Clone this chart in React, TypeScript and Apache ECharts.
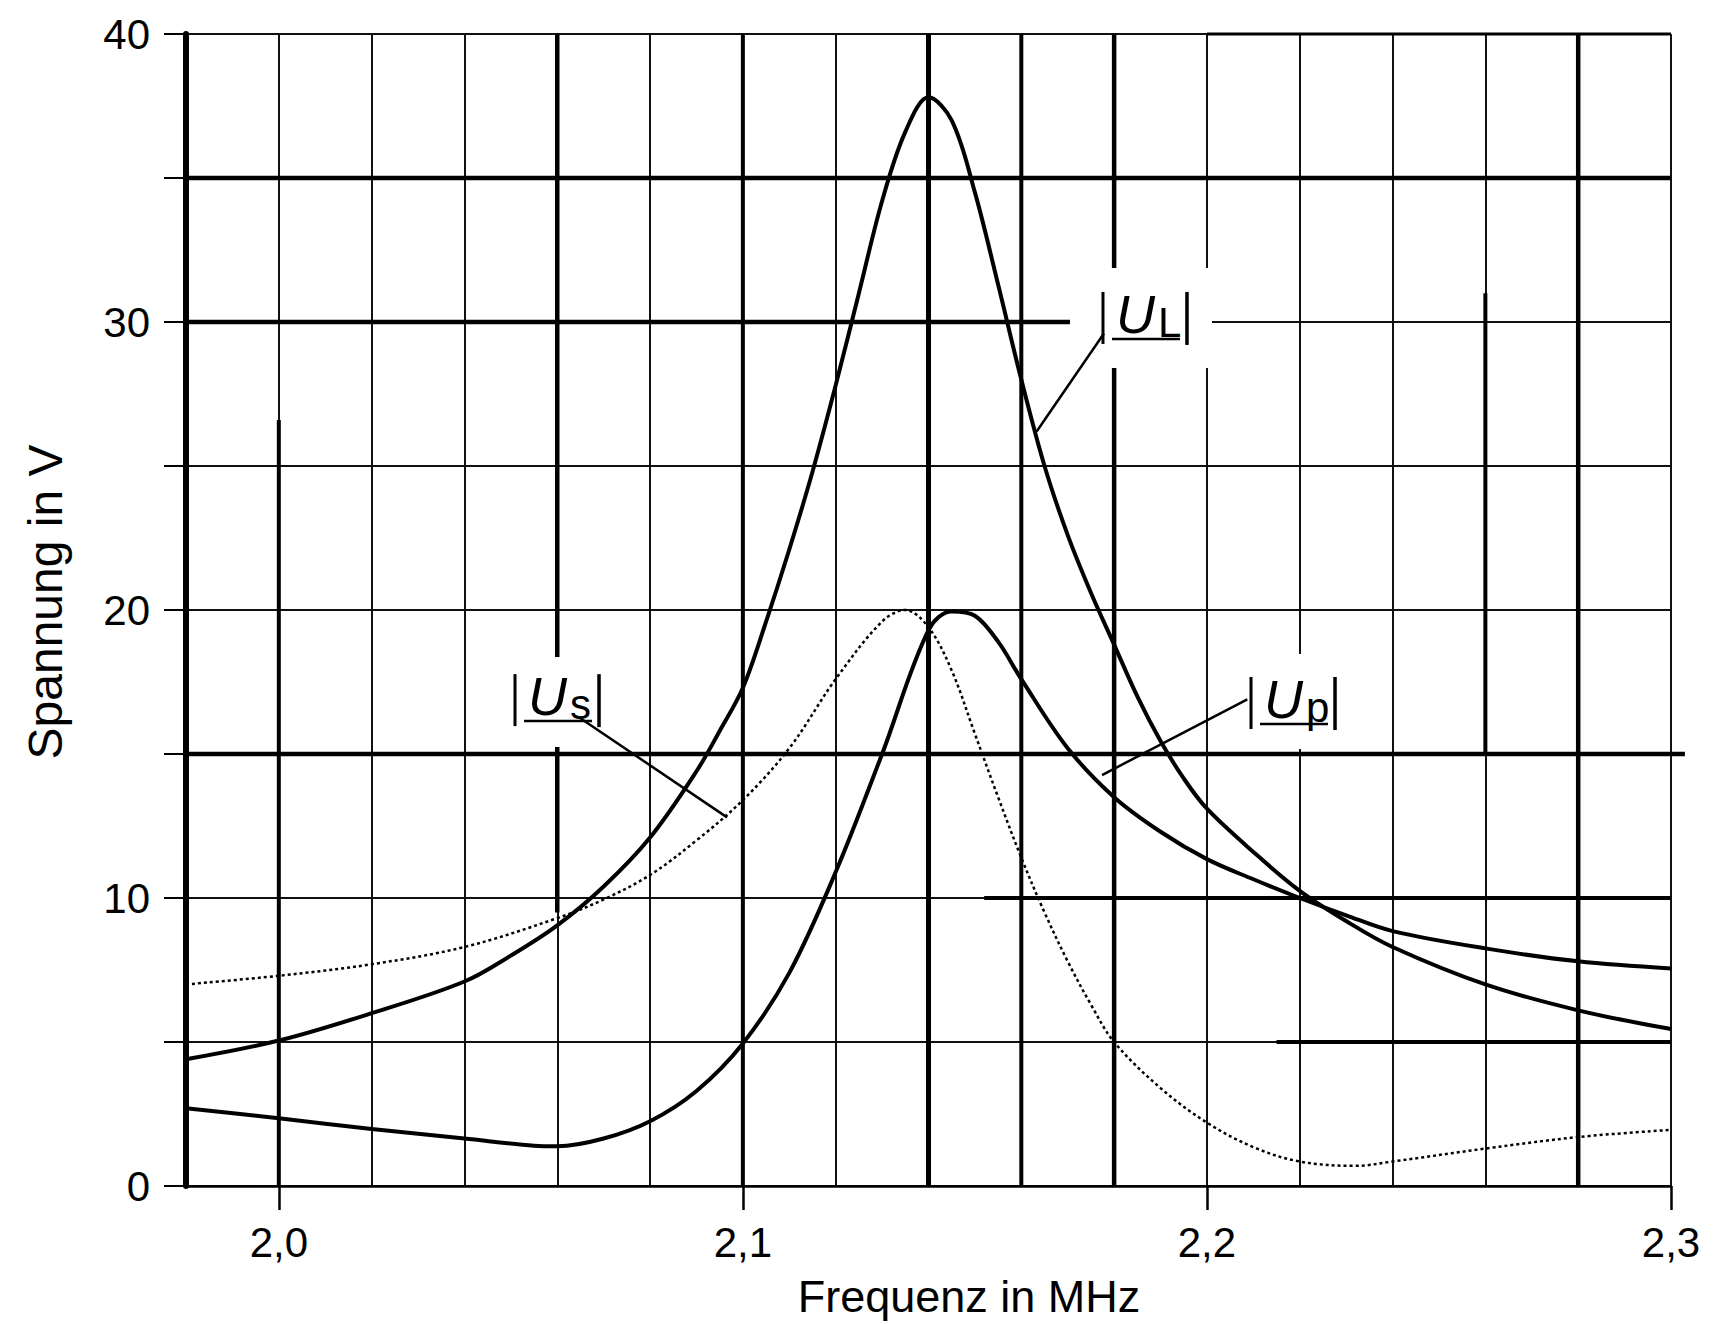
import React, { useEffect, useRef } from "react";
import * as echarts from "echarts";

// ---- data ----
const ulFreq = [1.98, 2.0, 2.02, 2.04, 2.05, 2.06, 2.07, 2.08, 2.09, 2.095, 2.1, 2.105, 2.11, 2.115, 2.12, 2.125, 2.13, 2.135, 2.14, 2.145, 2.15, 2.155, 2.16, 2.165, 2.17, 2.175, 2.18, 2.185, 2.19, 2.195, 2.2, 2.21, 2.22, 2.23, 2.24, 2.26, 2.28, 2.3];
const ulVolt = [4.4, 5.05, 6.0, 7.1, 8.0, 9.05, 10.4, 12.1, 14.4, 15.8, 17.3, 19.6, 22.1, 24.8, 27.8, 31.0, 34.2, 36.6, 37.8, 37.0, 34.5, 31.3, 28.0, 25.0, 22.6, 20.6, 18.8, 17.0, 15.45, 14.15, 13.1, 11.6, 10.25, 9.2, 8.3, 7.0, 6.1, 5.45];

const usFreq = [1.98, 2.0, 2.02, 2.04, 2.06, 2.07, 2.08, 2.09, 2.1, 2.11, 2.12, 2.13, 2.135, 2.14, 2.145, 2.15, 2.155, 2.16, 2.165, 2.17, 2.175, 2.18, 2.19, 2.2, 2.21, 2.22, 2.232, 2.24, 2.26, 2.28, 2.3];
const usVolt = [7.0, 7.3, 7.7, 8.3, 9.3, 9.95, 10.8, 12.0, 13.4, 15.2, 17.6, 19.6, 20.0, 19.4, 17.9, 15.7, 13.5, 11.4, 9.5, 7.8, 6.3, 5.0, 3.4, 2.2, 1.35, 0.85, 0.7, 0.85, 1.3, 1.7, 1.95];

const upFreq = [1.98, 2.0, 2.02, 2.04, 2.055, 2.06, 2.07, 2.08, 2.09, 2.1, 2.11, 2.12, 2.13, 2.14, 2.145, 2.15, 2.155, 2.16, 2.17, 2.18, 2.19, 2.2, 2.21, 2.22, 2.23, 2.24, 2.26, 2.28, 2.3];
const upVolt = [2.7, 2.35, 1.98, 1.65, 1.4, 1.38, 1.65, 2.25, 3.3, 4.95, 7.4, 10.9, 15.0, 19.3, 19.95, 19.8, 18.9, 17.6, 15.2, 13.5, 12.3, 11.35, 10.65, 10.0, 9.4, 8.85, 8.25, 7.8, 7.55];

const xMajorTicks = [2.0, 2.1, 2.2, 2.3];
const yLabelTicks = [0, 10, 20, 30, 40];

// curve labels: subscript, anchor (U letter left/baseline) and leader line ends, in data units
const labelSubs = ["L", "s", "p"];
const labelAnchors = [[2.1804, 29.62], [2.0537, 16.35], [2.2123, 16.25]];
const leaderStarts = [[2.1778, 29.6], [2.0649, 16.25], [2.2087, 16.9]];
const leaderEnds = [[2.1633, 26.2], [2.0966, 12.8], [2.1774, 14.27]];

// heavier grid strokes of the original drawing (data units)
const heavyVertical = [[2.0, 0, 26.6, 4], [2.06, 9.5, 40, 4.5], [2.1, 0, 40, 4], [2.14, 0, 40, 5], [2.16, 0, 40, 4], [2.18, 0, 40, 4.5], [2.26, 15, 31, 4], [2.28, 0, 40, 4.5]];
const heavyHorizontal = [[40, 2.2, 2.3, 3], [35, 1.98, 2.3, 4.5], [30, 1.98, 2.171, 4.5], [15, 1.98, 2.303, 4.5], [10, 2.152, 2.3, 4], [5, 2.215, 2.3, 4]];

const FONT = '"Liberation Sans", Arial, Helvetica, sans-serif';

function zip(a: number[], b: number[]) {
  return a.map((v, i) => [v, b[i]]);
}

export default function App() {
  const ref = useRef<HTMLDivElement>(null);

  useEffect(() => {
    document.body.style.margin = "0";
    const chart = echarts.init(ref.current!, null, { renderer: "svg" });
    const fmtX = (v: number) => v.toFixed(1).replace(".", ",");
    chart.setOption({
      animation: false,
      backgroundColor: "#ffffff",
      textStyle: { fontFamily: FONT },
      grid: { left: 186, right: 64, top: 34, bottom: 138, containLabel: false },
      xAxis: [
        {
          type: "value",
          min: 1.98,
          max: 2.3,
          interval: 0.02,
          z: 0,
          axisLine: { show: true, lineStyle: { color: "#000", width: 2.5 } },
          axisTick: { show: false },
          axisLabel: { show: false },
          splitLine: { show: true, lineStyle: { color: "#111", width: 2 } },
        },
        {
          type: "value",
          min: 1.98,
          max: 2.3,
          position: "bottom",
          z: 0,
          axisLine: { show: false },
          splitLine: { show: false },
          axisTick: { show: true, customValues: xMajorTicks, length: 24, lineStyle: { color: "#000", width: 2.5 } },
          axisLabel: {
            show: true,
            customValues: xMajorTicks,
            formatter: (v: number) => fmtX(v),
            margin: 35,
            fontSize: 42,
            color: "#000",
            fontFamily: FONT,
          },
        },
      ],
      yAxis: {
        type: "value",
        min: 0,
        max: 40,
        interval: 5,
        z: 0,
        axisLine: { show: true, lineStyle: { color: "#000", width: 6 } },
        axisTick: { show: true, length: 22, lineStyle: { color: "#000", width: 2 } },
        axisLabel: {
          formatter: (v: number) => (yLabelTicks.indexOf(v) >= 0 ? String(v) : ""),
          margin: 36,
          fontSize: 42,
          color: "#000",
          fontFamily: FONT,
        },
        splitLine: { show: true, lineStyle: { color: "#111", width: 2 } },
      },
      series: [
        {
          name: "|U_L|",
          type: "line",
          xAxisIndex: 0,
          data: zip(ulFreq, ulVolt),
          smooth: 0.35,
          symbol: "none",
          z: 3,
          lineStyle: { color: "#000", width: 4 },
        },
        {
          name: "|U_p|",
          type: "line",
          xAxisIndex: 0,
          data: zip(upFreq, upVolt),
          smooth: 0.35,
          symbol: "none",
          z: 3,
          lineStyle: { color: "#000", width: 4 },
        },
        {
          name: "|U_s|",
          type: "line",
          xAxisIndex: 0,
          data: zip(usFreq, usVolt),
          smooth: 0.35,
          symbol: "none",
          z: 3,
          lineStyle: { color: "#000", width: 2.5, type: [3, 3] },
        },
      ],
    });

    const px = (x: number, y: number) => chart.convertToPixel({ xAxisIndex: 0, yAxisIndex: 0 }, [x, y]) as number[];
    const els: any[] = [];

    heavyVertical.forEach(([x, y0, y1, w]) => {
      const a = px(x, y0);
      const b = px(x, y1);
      els.push({ type: "line", z: 1, silent: true, shape: { x1: a[0], y1: a[1], x2: b[0], y2: b[1] }, style: { stroke: "#000", lineWidth: w } });
    });
    heavyHorizontal.forEach(([y, x0, x1, w]) => {
      const a = px(x0, y);
      const b = px(x1, y);
      els.push({ type: "line", z: 1, silent: true, shape: { x1: a[0], y1: a[1], x2: b[0], y2: b[1] }, style: { stroke: "#000", lineWidth: w } });
    });

    const masks = [[-46, 96, -65, 35], [-23, 82, -58, 32], [-24, 81, -64, 31]];
    labelSubs.forEach((sub, i) => {
      const [ax, ay] = px(labelAnchors[i][0], labelAnchors[i][1]);
      const m = masks[i];
      els.push({ type: "rect", z: 2, silent: true, shape: { x: ax + m[0], y: ay + m[2], width: m[1] - m[0], height: m[3] - m[2] }, style: { fill: "#fff" } });
      els.push({ type: "line", z: 5, shape: { x1: ax - 13, y1: ay - 41, x2: ax - 13, y2: ay + 11 }, style: { stroke: "#000", lineWidth: 3 } });
      els.push({ type: "line", z: 5, shape: { x1: ax + 71, y1: ay - 41, x2: ax + 71, y2: ay + 12 }, style: { stroke: "#000", lineWidth: 3.5 } });
      els.push({ type: "line", z: 5, shape: { x1: ax - 4, y1: ay + 6, x2: ax + 64, y2: ay + 6 }, style: { stroke: "#000", lineWidth: 2.5 } });
      els.push({
        type: "text", z: 5, x: ax, y: ay - 0.3465 * 54,
        style: { text: "U", font: `italic 54px ${FONT}`, fill: "#000", align: "left", textAlign: "left", verticalAlign: "middle", textVerticalAlign: "middle" },
      });
      els.push({
        type: "text", z: 5, x: ax + 42, y: ay + 4 - 0.3465 * 42,
        style: { text: sub, font: `42px ${FONT}`, fill: "#000", align: "left", textAlign: "left", verticalAlign: "middle", textVerticalAlign: "middle" },
      });
      const s = px(leaderStarts[i][0], leaderStarts[i][1]);
      const e = px(leaderEnds[i][0], leaderEnds[i][1]);
      els.push({ type: "line", z: 5, shape: { x1: s[0], y1: s[1], x2: e[0], y2: e[1] }, style: { stroke: "#000", lineWidth: 2.5 } });
    });

    els.push({
      type: "text", z: 5, x: 969, y: 1312 - 0.3465 * 45,
      style: { text: "Frequenz in MHz", font: `45px ${FONT}`, fill: "#000", align: "center", textAlign: "center", verticalAlign: "middle", textVerticalAlign: "middle" },
    });
    els.push({
      type: "text", z: 5, x: 62 - 0.3465 * 48, y: 602, rotation: Math.PI / 2,
      style: { text: "Spannung in V", font: `48px ${FONT}`, fill: "#000", align: "center", textAlign: "center", verticalAlign: "middle", textVerticalAlign: "middle" },
    });

    chart.setOption({ graphic: els });
    return () => chart.dispose();
  }, []);

  return <div ref={ref} style={{ position: "absolute", left: 0, top: 0, width: 1735, height: 1324 }} />;
}
